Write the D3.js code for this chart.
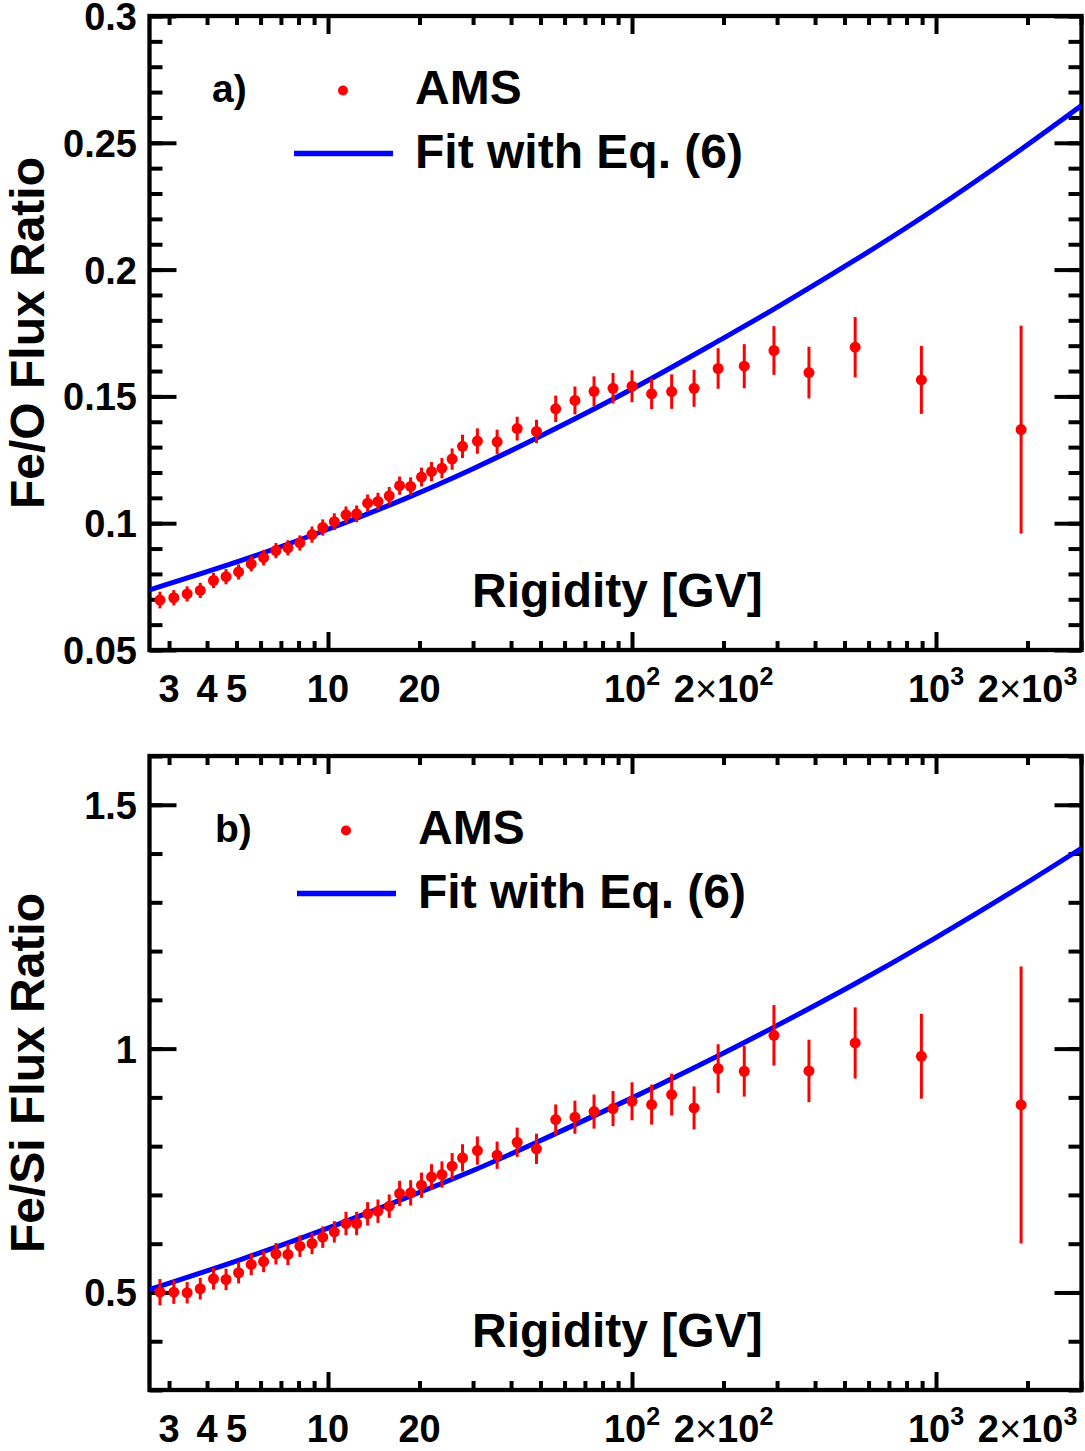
<!DOCTYPE html>
<html>
<head>
<meta charset="utf-8">
<script src="https://cdn.jsdelivr.net/npm/d3@7"></script>
<style>
  body { margin: 0; background: #fff; }
  text { font-family: "Liberation Sans", Arial, sans-serif; font-weight: bold; fill: #000; }
</style>
</head>
<body>
<div id="chart"></div>
<script>
// Rigidity bin centres [GV]
var rigidity = [2.80, 3.11, 3.44, 3.80, 4.20, 4.62, 5.08, 5.59, 6.14, 6.74, 7.38, 8.08, 8.86, 9.61,
  10.49, 11.46, 12.42, 13.5, 14.6, 15.9, 17.2, 18.7, 20.3, 21.9, 23.7, 25.6, 27.7, 31.0, 36.0,
  41.9, 48.5, 56.1, 64.9, 75.0, 86.6, 100, 116, 135, 160, 192, 234, 293, 382, 542, 895, 1905];

// Fe/O flux ratio and errors
var feO = [0.0697, 0.0706, 0.0721, 0.0735, 0.0774, 0.0789, 0.0808, 0.0840, 0.0864, 0.0892, 0.0903,
  0.0922, 0.0955, 0.0983, 0.1006, 0.1033, 0.1037, 0.1079, 0.1086, 0.1108, 0.1148, 0.1145, 0.1182,
  0.1203, 0.1217, 0.1253, 0.1303, 0.1324, 0.1321, 0.1373, 0.1362, 0.1451, 0.1484, 0.1520, 0.1532,
  0.1540, 0.1510, 0.1519, 0.1532, 0.1610, 0.1619, 0.1681, 0.1594, 0.1694, 0.1565, 0.1369];
var feOErr = [0.0033, 0.003, 0.003, 0.003, 0.003, 0.003, 0.003, 0.003, 0.003, 0.003, 0.003,
  0.003, 0.0032, 0.0032, 0.0033, 0.0033, 0.0033, 0.0034, 0.0034, 0.0035, 0.0036, 0.0036, 0.0037,
  0.0038, 0.004, 0.0042, 0.0046, 0.005, 0.0048, 0.0047, 0.0046, 0.0052, 0.0055, 0.0059, 0.006,
  0.0063, 0.006, 0.0068, 0.0073, 0.008, 0.0087, 0.0096, 0.0102, 0.0119, 0.0134, 0.041];

// Fe/Si flux ratio and errors
var feSi = [0.5006, 0.5006, 0.4994, 0.5076, 0.528, 0.5266, 0.5404, 0.5574, 0.5635, 0.5793, 0.578,
  0.5949, 0.6004, 0.6134, 0.6243, 0.6414, 0.6414, 0.6612, 0.6666, 0.6769, 0.7029, 0.7042, 0.7199,
  0.737, 0.7418, 0.7589, 0.776, 0.791, 0.7814, 0.808, 0.7945, 0.8545, 0.8593, 0.8709, 0.877,
  0.892, 0.8852, 0.9057, 0.8784, 0.959, 0.9536, 1.0273, 0.9543, 1.0116, 0.9843, 0.8846];
var feSiErr = [0.027, 0.024, 0.022, 0.022, 0.022, 0.022, 0.022, 0.022, 0.022, 0.022, 0.022,
  0.022, 0.022, 0.022, 0.022, 0.024, 0.024, 0.024, 0.024, 0.024, 0.026, 0.026, 0.026,
  0.026, 0.027, 0.027, 0.028, 0.029, 0.028, 0.03, 0.031, 0.031, 0.034, 0.035, 0.036,
  0.039, 0.041, 0.043, 0.044, 0.05, 0.052, 0.062, 0.064, 0.073, 0.087, 0.284];

// Fit curves
var fitR = [2.59, 5.13, 10, 18.2, 30.0, 48.6, 100, 190, 291, 534, 977, 1838, 3010];
var fitFeO = [0.0737, 0.0851, 0.0976, 0.1100, 0.1215, 0.1336, 0.1529, 0.1715, 0.1842, 0.2033, 0.2234, 0.2461, 0.2647];
var fitFeSi = [0.506, 0.567, 0.632, 0.695, 0.750, 0.808, 0.899, 0.984, 1.043, 1.131, 1.224, 1.327, 1.411];

// Axis ticks and labels
var xMajor = [10, 100, 1000];
var xMinor = [3, 4, 5, 6, 7, 8, 9, 20, 30, 40, 50, 60, 70, 80, 90, 200, 300, 400, 500, 600, 700, 800, 900, 2000, 3000];
var xLabelValues = [3, 4, 5, 10, 20, 100, 200, 1000, 2000];
var xLabelPre = ["", "", "", "", "", "", "2", "", "2"];
var xLabelBase = ["3", "4", "5", "10", "20", "10", "10", "10", "10"];
var xLabelSup = ["", "", "", "", "", "2", "2", "3", "3"];

var topYMajor = [0.05, 0.1, 0.15, 0.2, 0.25, 0.3];
var topYLabels = ["0.05", "0.1", "0.15", "0.2", "0.25", "0.3"];
var botYMajor = [0.5, 1, 1.5];
var botYLabels = ["0.5", "1", "1.5"];

var svgWidth = 1085;
var svgHeight = 1451;

var svg = d3.select("#chart")
  .append("svg")
  .attr("width", svgWidth)
  .attr("height", svgHeight);

var plotLeft = 149.5;
var plotRight = 1081.5;

var xScale = d3.scaleLog()
  .domain([2.587, 3010])
  .range([plotLeft, plotRight]);

var panels = [
  {
    id: "a", top: 16, bottom: 650, domain: [0.05, 0.3],
    major: topYMajor, labels: topYLabels, minorStep: 0.01,
    values: feO, errors: feOErr, fit: fitFeO,
    title: "Fe/O Flux Ratio", tag: "a)", dx: 0
  },
  {
    id: "b", top: 756, bottom: 1390, domain: [0.3, 1.6],
    major: botYMajor, labels: botYLabels, minorStep: 0.1,
    values: feSi, errors: feSiErr, fit: fitFeSi,
    title: "Fe/Si Flux Ratio", tag: "b)", dx: 3
  }
];

panels.forEach(function(p) {
  var yScale = d3.scaleLinear()
    .domain(p.domain)
    .range([p.bottom, p.top]);

  var g = svg.append("g");

  // clip for the fit line
  svg.append("clipPath")
    .attr("id", "clip-" + p.id)
    .append("rect")
    .attr("x", plotLeft)
    .attr("y", p.top)
    .attr("width", plotRight - plotLeft)
    .attr("height", p.bottom - p.top);

  var yMinor = d3.range(p.domain[0], p.domain[1] + 1e-9, p.minorStep)
    .map(function(v) { return +v.toFixed(3); });

  // ticks on all four sides, pointing inward
  function tickAxis(axis, transform) {
    var a = g.append("g")
      .attr("transform", transform)
      .call(axis);
    a.select(".domain").remove();
    a.selectAll("line").attr("stroke", "#000").attr("stroke-width", 4);
    a.selectAll("text").remove();
  }

  tickAxis(d3.axisBottom(xScale).tickValues(xMinor).tickSize(-9), "translate(0," + p.bottom + ")");
  tickAxis(d3.axisBottom(xScale).tickValues(xMajor).tickSize(-18), "translate(0," + p.bottom + ")");
  tickAxis(d3.axisTop(xScale).tickValues(xMinor).tickSize(-9), "translate(0," + p.top + ")");
  tickAxis(d3.axisTop(xScale).tickValues(xMajor).tickSize(-18), "translate(0," + p.top + ")");
  tickAxis(d3.axisLeft(yScale).tickValues(yMinor).tickSize(-13), "translate(" + plotLeft + ",0)");
  tickAxis(d3.axisLeft(yScale).tickValues(p.major).tickSize(-27), "translate(" + plotLeft + ",0)");
  tickAxis(d3.axisRight(yScale).tickValues(yMinor).tickSize(-13), "translate(" + plotRight + ",0)");
  tickAxis(d3.axisRight(yScale).tickValues(p.major).tickSize(-27), "translate(" + plotRight + ",0)");

  // frame
  g.append("rect")
    .attr("x", plotLeft)
    .attr("y", p.top)
    .attr("width", plotRight - plotLeft)
    .attr("height", p.bottom - p.top)
    .attr("fill", "none")
    .attr("stroke", "#000")
    .attr("stroke-width", 4.3);

  // y tick labels
  g.selectAll(".ylab")
    .data(p.major)
    .enter()
    .append("text")
    .attr("class", "ylab")
    .attr("x", 137)
    .attr("y", function(d) { return yScale(d) + 14; })
    .attr("text-anchor", "end")
    .style("font-size", "38px")
    .text(function(d, i) { return p.labels[i]; });

  // x tick labels with powers of ten
  var xl = g.selectAll(".xlab")
    .data(xLabelValues)
    .enter()
    .append("text")
    .attr("class", "xlab")
    .attr("x", function(d) { return xScale(d); })
    .attr("y", p.bottom + 52)
    .attr("text-anchor", "middle")
    .style("font-size", "38px");
  xl.each(function(d, i) {
    var t = d3.select(this);
    if (xLabelPre[i]) {
      t.append("tspan").text(xLabelPre[i]);
      t.append("tspan").style("font-weight", "normal").text("\u00d7");
    }
    t.append("tspan").text(xLabelBase[i]);
    if (xLabelSup[i]) {
      t.append("tspan").attr("dy", -17).style("font-size", "25px").text(xLabelSup[i]);
    }
  });

  // fit line
  var line = d3.line()
    .x(function(d, i) { return xScale(fitR[i]); })
    .y(function(d) { return yScale(d); })
    .curve(d3.curveNatural);

  g.append("path")
    .datum(p.fit)
    .attr("clip-path", "url(#clip-" + p.id + ")")
    .attr("d", line)
    .attr("fill", "none")
    .attr("stroke", "#0000ff")
    .attr("stroke-width", 5);

  // error bars
  g.selectAll(".err")
    .data(p.values)
    .enter()
    .append("line")
    .attr("class", "err")
    .attr("x1", function(d, i) { return xScale(rigidity[i]); })
    .attr("x2", function(d, i) { return xScale(rigidity[i]); })
    .attr("y1", function(d, i) { return yScale(d - p.errors[i]); })
    .attr("y2", function(d, i) { return yScale(d + p.errors[i]); })
    .attr("stroke", "#ff0000")
    .attr("stroke-width", 3);

  // points
  g.selectAll(".pt")
    .data(p.values)
    .enter()
    .append("circle")
    .attr("class", "pt")
    .attr("cx", function(d, i) { return xScale(rigidity[i]); })
    .attr("cy", function(d) { return yScale(d); })
    .attr("r", 5.5)
    .attr("fill", "#ff0000");

  // axis titles
  g.append("text")
    .attr("transform", "translate(44," + ((p.top + p.bottom) / 2) + ") rotate(-90)")
    .attr("text-anchor", "middle")
    .style("font-size", "48px")
    .text(p.title);

  g.append("text")
    .attr("x", 472)
    .attr("y", p.top + 591)
    .style("font-size", "48px")
    .text("Rigidity [GV]");

  // legend
  g.append("text")
    .attr("x", 212 + p.dx)
    .attr("y", p.top + 86)
    .style("font-size", "39px")
    .text(p.tag);

  g.append("circle")
    .attr("cx", 343 + p.dx)
    .attr("cy", p.top + 74.5)
    .attr("r", 5)
    .attr("fill", "#ff0000");

  g.append("text")
    .attr("x", 415 + p.dx)
    .attr("y", p.top + 88)
    .style("font-size", "48px")
    .text("AMS");

  g.append("line")
    .attr("x1", 294 + p.dx)
    .attr("x2", 393 + p.dx)
    .attr("y1", p.top + 137.5)
    .attr("y2", p.top + 137.5)
    .attr("stroke", "#0000ff")
    .attr("stroke-width", 5.5);

  g.append("text")
    .attr("x", 415 + p.dx)
    .attr("y", p.top + 152)
    .style("font-size", "48px")
    .text("Fit with Eq. (6)");
});
</script>
</body>
</html>
